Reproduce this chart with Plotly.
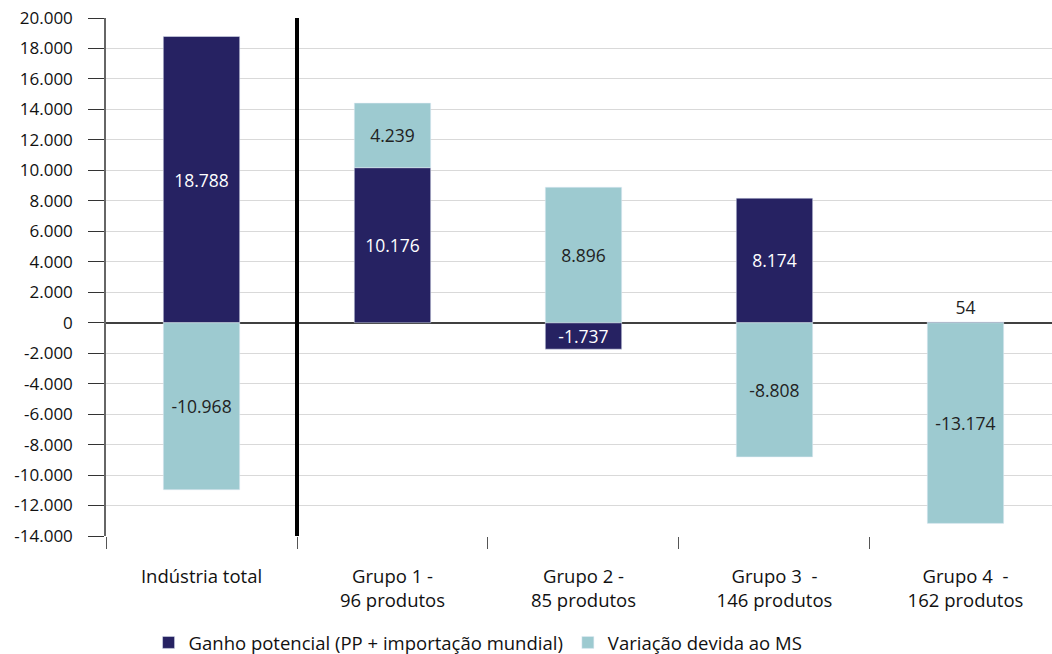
import plotly.graph_objects as go

categories = ["Indústria total", "Grupo 1 -<br>96 produtos", "Grupo 2 -<br>85 produtos",
              "Grupo 3  -<br>146 produtos", "Grupo 4  -<br>162 produtos"]
ganho = [18788, 10176, -1737, 8174, 54]
variacao = [-10968, 4239, 8896, -8808, -13174]
series_names = ["Ganho potencial (PP + importação mundial)", "Variação devida ao MS"]
tick_vals = list(range(-14000, 20001, 2000))
tick_text = [f"{v:,}".replace(",", ".") for v in tick_vals]

def fmt(v):
    return f"{v:,}".replace(",", ".")

DARK = "#262262"
LIGHT = "#9dcad0"
FONT = "Open Sans"

fig = go.Figure()
fig.add_trace(go.Bar(
    x=categories, y=ganho, name=series_names[0], marker_color=DARK, width=0.4,
    text=[fmt(v) for v in ganho],
    textposition=["inside" if abs(v) > 500 else "outside" for v in ganho],
    insidetextanchor="middle",
    insidetextfont=dict(color="white", size=17.5, family=FONT),
    outsidetextfont=dict(color="#222222", size=17.5, family=FONT),
    constraintext="none", cliponaxis=False,
))
fig.add_trace(go.Bar(
    x=categories, y=variacao, name=series_names[1], marker_color=LIGHT, width=0.4,
    text=[fmt(v) for v in variacao], textposition="inside",
    insidetextanchor="middle",
    insidetextfont=dict(color="#222222", size=17.5, family=FONT),
    constraintext="none",
))

fig.add_shape(type="line", xref="x", yref="y", x0=0.5, x1=0.5, y0=-14000, y1=20000,
              line=dict(color="black", width=4))

fig.update_layout(
    width=1052, height=654, barmode="relative",
    margin=dict(l=106, r=0, t=18, b=118, autoexpand=False),
    plot_bgcolor="white", paper_bgcolor="white",
    font=dict(family=FONT, size=17, color="#222222"),
    showlegend=True,
    legend=dict(orientation="h", x=0.045, xanchor="left",
                yref="container", y=0.017, yanchor="middle",
                font=dict(size=18.5, family=FONT, color="#111111"),
                itemwidth=30, traceorder="normal"),
)
fig.update_yaxes(
    range=[-14000, 20000], tickvals=tick_vals, ticktext=tick_text, automargin=False,
    showgrid=True, gridcolor="#d9d9d9", gridwidth=1,
    zeroline=True, zerolinecolor="#404040", zerolinewidth=1.5,
    showline=True, linecolor="#666666", linewidth=1.5,
    ticks="outside", ticklen=16, tickcolor="#333333", ticklabelstandoff=12,
    tickfont=dict(size=17, family=FONT, color="#111111"),
)
fig.update_xaxes(
    range=[-0.5, 4.453],
    showline=False, ticks="outside", tickson="boundaries", ticklen=12, automargin=False,
    tickcolor="#555555", showgrid=False, ticklabelstandoff=27,
    tickfont=dict(size=18.5, family=FONT, color="#111111"),
)

fig.write_html("out.html")
